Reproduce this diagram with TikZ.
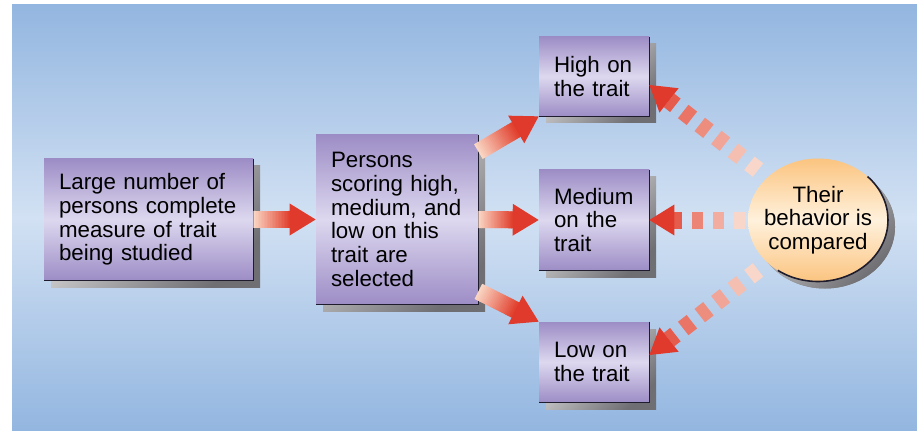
\documentclass[tikz,border=0pt]{standalone}
\usepackage{fontspec}
\setmainfont{Liberation Sans}
\usetikzlibrary{calc,shapes.geometric,shadows}

\definecolor{ciel}{RGB}{147,182,224}
\definecolor{cielclair}{RGB}{210,225,243}
\definecolor{boitebord}{RGB}{157,141,198}
\definecolor{boitemilieu}{RGB}{221,216,239}
\definecolor{lisere}{RGB}{30,28,45}
\definecolor{ombreclair}{RGB}{232,232,232}
\definecolor{ombrefonce}{RGB}{110,110,115}
\definecolor{orangebord}{RGB}{251,196,128}
\definecolor{orangemilieu}{RGB}{255,241,220}
\definecolor{flechefroid}{RGB}{250,214,196}
\definecolor{flechechaud}{RGB}{226,66,48}
\definecolor{pointe}{RGB}{223,58,43}
\definecolor{tiretchaud}{RGB}{230,92,76}
\definecolor{tiretfroid}{RGB}{248,214,202}

\newcommand{\texte}{\fontsize{12.7}{13.5}\selectfont}

\tikzset{
  ombre/.style={drop shadow={shadow xshift=0.14cm, shadow yshift=-0.14cm, opacity=1,
      top color=ombreclair, bottom color=ombrefonce, shading angle=45}},
  boite/.style={rectangle, inner xsep=0.3cm, inner ysep=0pt, align=left, font=\texte,
      top color=boitebord, bottom color=boitebord, middle color=boitemilieu, ombre},
  bordure/.style={line width=0.9pt, draw=lisere},
}

% flèche pleine dégradée : #1 départ, #2 pointe
\newcommand{\flechepleine}[2]{%
  \coordinate (base) at ($(#2)!0.52cm!(#1)$);
  \foreach \k in {0,...,23}
  {
    \pgfmathsetmacro{\p}{100*\k/23}
    \draw[line width=0.34cm, draw=flechechaud!\p!flechefroid] ($(#1)!\k/24!(base)$) -- ($(#1)!{(\k+1.5)/24}!(base)$);
  }
  \fill[pointe] (#2) -- ($(base)!0.32cm!90:(#2)$) -- ($(base)!0.32cm!-90:(#2)$) -- cycle;
}

% flèche en tirets : #1 départ, #2 pointe, #3 dernier tiret
\newcommand{\flechetiret}[3]{%
  \coordinate (base) at ($(#2)!0.5cm!(#1)$);
  \foreach \k in {0,...,#3}
  {
    \pgfmathsetmacro{\da}{max(0,\k*0.42-0.06)}
    \pgfmathsetmacro{\db}{\k*0.42+0.16}
    \pgfmathsetmacro{\p}{100-100*\k/#3}
    \draw[line width=0.34cm, draw=tiretchaud!\p!tiretfroid] ($(base)!\da cm!(#1)$) -- ($(base)!\db cm!(#1)$);
  }
  \fill[pointe] (#2) -- ($(base)!0.31cm!90:(#2)$) -- ($(base)!0.31cm!-90:(#2)$) -- cycle;
}

\begin{document}
\begin{tikzpicture}
  \useasboundingbox (0,0) rectangle (18.34,8.6);
  % Fond
  \shade[top color=ciel, bottom color=ciel, middle color=cielclair] (0.24,0) rectangle (18.34,8.5);

  % Boîtes
  \node[boite, text width=3.58cm, minimum height=2.42cm] (grand) at (2.97,4.21)
    {Large number of\\persons complete\\measure of trait\\being studied};
  \node[boite, text width=2.64cm, minimum height=3.38cm] (choix) at (7.94,4.21)
    {Persons\\scoring high,\\medium, and\\low on this\\trait are\\selected};
  \node[boite, text width=1.6cm, minimum height=1.58cm] (haut) at (11.88,7.07) {High on\\the trait};
  \node[boite, text width=1.6cm, minimum height=2.0cm] (moyen) at (11.88,4.2) {Medium\\on the\\trait};
  \node[boite, text width=1.6cm, minimum height=1.6cm] (bas) at (11.88,1.36) {Low on\\the trait};
  \foreach \n in {grand,choix,haut,moyen,bas}
    \draw[bordure] (\n.north east) -- (\n.south east) -- (\n.south west);

  % Flèches pleines
  \coordinate (h0) at ([yshift=-0.34cm]choix.north east);
  \coordinate (b0) at ([yshift=0.26cm]choix.south east);
  \flechepleine{grand.east}{choix.west}
  \flechepleine{h0}{haut.south west}
  \flechepleine{choix.east}{moyen.west}
  \flechepleine{b0}{bas.north west}

  % Flèches en tirets
  \coordinate (hC) at ([yshift=-0.17cm]haut.east);
  \coordinate (bC) at ([yshift=0.14cm]bas.east);
  \coordinate (c1) at (15.35,5.05);
  \coordinate (c2) at (14.96,4.2);
  \coordinate (c3) at (15.35,3.35);
  \flechetiret{c1}{hC}{5}
  \flechetiret{c2}{moyen.east}{3}
  \flechetiret{c3}{bC}{5}

  % Ellipse
  \node[ellipse, minimum width=2.8cm, minimum height=2.46cm, inner sep=-0.2cm, align=center, font=\texte,
    top color=orangebord, bottom color=orangebord, middle color=orangemilieu, ombre] (comp) at (16.36,4.2)
    {Their\\behavior is\\compared};
  \draw[bordure] ([shift={(45:1.4cm and 1.23cm)}]comp.center)
    arc[start angle=45, end angle=-125, x radius=1.4cm, y radius=1.23cm];
\end{tikzpicture}
\end{document}
